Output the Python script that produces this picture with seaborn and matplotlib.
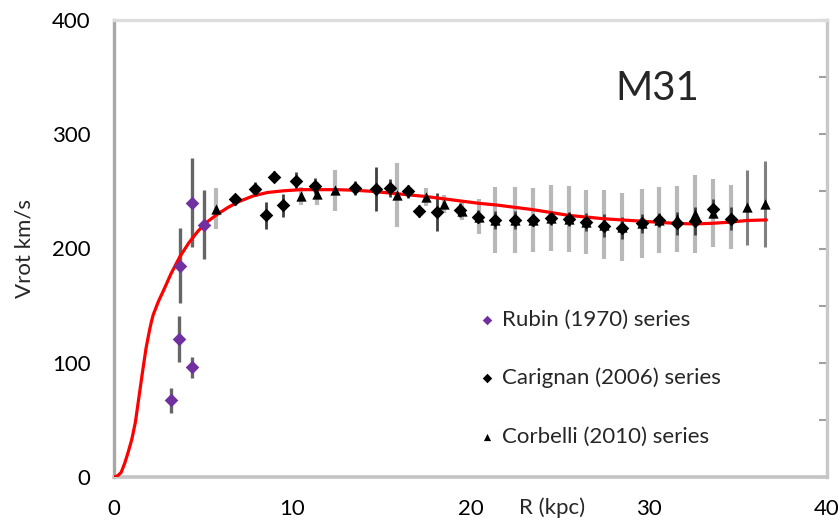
import matplotlib
matplotlib.use("Agg")
import matplotlib.pyplot as plt
import seaborn as sns
from matplotlib.ticker import MultipleLocator

# ---- data ----
model_r = [0, 0.2, 0.4, 0.6, 0.8, 1.0, 1.2, 1.4, 1.6, 1.8, 2.0, 2.1, 2.2, 2.5, 2.8, 3.2, 3.7,
           4.2, 4.7, 5.2, 5.8, 6.4, 7.0, 7.8, 8.6, 9.5, 10.5, 11.5, 12.5, 13.5, 14.5,
           15.5, 16.5, 17.5, 18.5, 19.5, 20.5, 21.5, 22.5, 23.5, 24.5, 25.5, 26.5,
           27.5, 28.5, 29.5, 30.5, 31.5, 32.5, 33.5, 34.5, 35.5, 36.6]
model_v = [0, 1, 4, 12, 22, 33, 48, 70, 92, 113, 129, 136, 142, 154, 164, 178, 193,
           205, 215, 223, 230, 236, 241, 246, 249, 250.5, 251.5, 251.5, 251.5, 251, 250,
           248.5, 247, 245.5, 243.5, 241.5, 239.5, 238, 236, 234, 231.5, 229, 227.5,
           226, 225, 224, 223, 222, 221.5, 222, 223, 224.5, 225]

rubin_r = [3.2, 3.65, 3.7, 4.35, 4.4, 5.05]
rubin_v = [67, 121, 185, 96, 240, 221]
rubin_e = [11, 20, 33, 9, 39, 30]

carignan_r = [6.8, 7.9, 8.5, 9.0, 9.5, 10.2, 11.3, 13.5, 14.7, 15.5, 16.5, 17.1, 18.1,
              19.4, 20.4, 21.4, 22.5, 23.5, 24.5, 25.5, 26.5, 27.5, 28.5, 29.6, 30.6,
              31.6, 32.6, 33.6, 34.6]
carignan_v = [243, 252, 229, 263, 238, 259, 255, 253, 252, 253, 250, 233, 232,
              234, 228, 225, 225, 225, 227, 226, 223, 220, 218, 222, 225,
              222, 224, 235, 226]
carignan_e = [5, 6, 12, 5, 10, 8, 7, 6, 19, 8, 6, 5, 17,
              6, 6, 8, 8, 5, 6, 6, 8, 10, 10, 8, 6,
              10, 12, 8, 10]

corbelli_r = [5.7, 10.5, 11.4, 12.4, 15.9, 17.5, 18.5, 19.5, 20.5, 21.4, 22.5, 23.5,
              24.5, 25.5, 26.5, 27.5, 28.5, 29.6, 30.6, 31.6, 32.6, 33.6, 34.6, 35.5, 36.5]
corbelli_v = [235, 246, 248, 251, 247, 245, 239, 233, 228, 225, 225, 225,
              227, 226, 223, 221, 219, 222, 225, 226, 230, 231, 228, 236, 239]
corbelli_e = [18, 8, 10, 18, 28, 8, 8, 8, 15, 29, 29, 28,
              29, 29, 28, 30, 30, 30, 29, 29, 34, 30, 28, 33, 38]

labels = ["Rubin (1970) series", "Carignan (2006) series", "Corbelli (2010) series"]
purple = "#7030A0"

# ---- figure ----
sns.set_style("white")
plt.rcParams["font.family"] = ["Lato", "DejaVu Sans"]
FS = 16

fig = plt.figure(figsize=(8.4, 5.23), dpi=100)
ax = fig.add_axes([114 / 840, 1 - 477 / 523, 713 / 840, 457 / 523])

# error bars
ax.errorbar(corbelli_r[:-2], corbelli_v[:-2], yerr=corbelli_e[:-2], fmt="none",
            ecolor="#b8b8b8", elinewidth=3.0, capsize=0, zorder=2)
ax.errorbar(corbelli_r[-2:], corbelli_v[-2:], yerr=corbelli_e[-2:], fmt="none",
            ecolor="#808080", elinewidth=2.2, capsize=0, zorder=2)
ax.errorbar(carignan_r, carignan_v, yerr=carignan_e, fmt="none",
            ecolor="#404040", elinewidth=2.0, capsize=0, zorder=2)
ax.errorbar(rubin_r, rubin_v, yerr=rubin_e, fmt="none",
            ecolor="#666666", elinewidth=2.4, capsize=0, zorder=2)

# model curve
sns.lineplot(x=model_r, y=model_v, color="red", lw=2.3, ax=ax, zorder=3, sort=False)

# markers
sns.scatterplot(x=rubin_r, y=rubin_v, marker="D", s=48, color=purple,
                edgecolor=purple, linewidth=0, ax=ax, zorder=4, label=labels[0])
sns.scatterplot(x=carignan_r, y=carignan_v, marker="D", s=48, color="black",
                edgecolor="black", linewidth=0, ax=ax, zorder=4, label=labels[1])
sns.scatterplot(x=corbelli_r, y=corbelli_v, marker="^", s=55, color="black",
                edgecolor="black", linewidth=0, ax=ax, zorder=4, label=labels[2])

ax.set_xlim(0, 40)
ax.set_ylim(0, 400)
ax.xaxis.set_major_locator(MultipleLocator(10))
ax.xaxis.set_minor_locator(MultipleLocator(2))
ax.yaxis.set_major_locator(MultipleLocator(100))
ax.yaxis.set_minor_locator(MultipleLocator(50))

ax.tick_params(axis="both", which="both", direction="in", colors="#a0a0a0",
               length=6, width=1.5, labelcolor="black", labelsize=FS)
ax.tick_params(axis="y", which="both", right=True, pad=17)
ax.tick_params(axis="x", which="both", pad=16)

for name, col, w in [("left", "#a8a8a8", 2.4), ("bottom", "#c4c4c4", 2.6),
                     ("top", "#dcdcdc", 2.4), ("right", "#c8c8c8", 2.4)]:
    ax.spines[name].set_visible(True)
    ax.spines[name].set_color(col)
    ax.spines[name].set_linewidth(w)

ax.set_ylabel("Vrot km/s", fontsize=FS)
ax.yaxis.set_label_coords(-(114 - 35) / 713, 0.5)
ax.set_xlabel("")
ax.text(24.6, -0.068, "R (kpc)", transform=ax.get_xaxis_transform(),
        ha="center", va="center", fontsize=FS)

ax.text(30.5, 340, "M31", ha="center", va="center", fontsize=29)

leg = ax.legend(loc="upper left", bbox_to_anchor=(0.4955, 0.386), frameon=False,
                fontsize=FS, handlelength=1.0, handletextpad=0.15, labelspacing=1.72,
                borderpad=0.4, borderaxespad=0, markerscale=0.7)

fig.savefig("out.png", dpi=100, facecolor="white")
